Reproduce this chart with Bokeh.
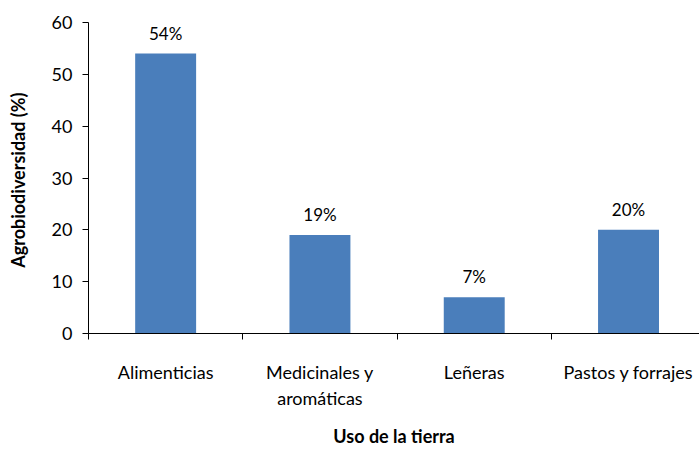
from bokeh.plotting import figure
from bokeh.models import ColumnDataSource, FixedTicker, Range1d, LabelSet
from bokeh.core.properties import value
from bokeh.embed import file_html
from bokeh.resources import INLINE

categories = ["Alimenticias", "Medicinales y\naromáticas", "Leñeras", "Pastos y forrajes"]
values = [54, 19, 7, 20]
value_labels = ["54%", "19%", "7%", "20%"]
y_ticks = [0, 10, 20, 30, 40, 50, 60]

FONT = "Lato"
BLUE = "#4A7EBB"

xs = [i + 0.5 for i in range(len(categories))]
src = ColumnDataSource(dict(x=xs, top=values, lab=value_labels))

p = figure(width=699, height=449, output_backend="svg", toolbar_location=None,
           x_range=Range1d(0, 3.96), y_range=Range1d(0, 60),
           min_border_left=88, min_border_right=0, min_border_top=22, min_border_bottom=116)
p.outline_line_color = None
p.xgrid.grid_line_color = None
p.ygrid.grid_line_color = None

p.vbar(x="x", top="top", width=0.395, source=src, fill_color=BLUE, line_color=None)

labels = LabelSet(x="x", y="top", text="lab", source=src, text_align="center",
                  text_baseline="bottom", y_offset=10, text_font=value(FONT),
                  text_font_size="17px", text_color="#000000")
p.add_layout(labels)

xa = p.xaxis[0]
xa.ticker = FixedTicker(ticks=xs, minor_ticks=[0, 1, 2, 3])
xa.major_label_overrides = {x: c for x, c in zip(xs, categories)}
xa.major_tick_out = 0
xa.major_tick_in = 0
xa.minor_tick_out = 6
xa.minor_tick_in = 0
xa.minor_tick_line_color = "#000000"
xa.axis_line_color = "#000000"
xa.major_label_standoff = 21
xa.major_label_text_font = FONT
xa.major_label_text_font_size = "18px"
xa.major_label_text_color = "#000000"
xa.axis_label = "Uso de la tierra"
xa.axis_label_text_font = FONT
xa.axis_label_text_font_size = "18px"
xa.axis_label_text_font_style = "bold"
xa.axis_label_text_color = "#000000"
xa.axis_label_standoff = 13

ya = p.yaxis[0]
ya.ticker = FixedTicker(ticks=y_ticks)
ya.minor_tick_line_color = None
ya.major_tick_out = 6
ya.major_tick_in = 0
ya.major_tick_line_color = "#000000"
ya.axis_line_color = "#000000"
ya.major_label_standoff = 10
ya.major_label_text_font = FONT
ya.major_label_text_font_size = "18px"
ya.major_label_text_color = "#000000"
ya.axis_label = "Agrobiodiversidad  (%)"
ya.axis_label_text_font = FONT
ya.axis_label_text_font_size = "18px"
ya.axis_label_text_font_style = "bold"
ya.axis_label_text_color = "#000000"
ya.axis_label_standoff = 20

open("out.html", "w").write(file_html(p, INLINE))
